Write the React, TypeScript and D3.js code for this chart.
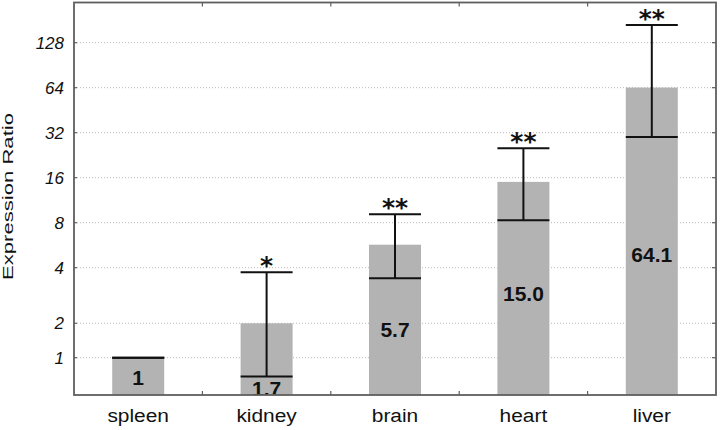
import React from "react";
import * as d3 from "d3";

const categories = ["spleen", "kidney", "brain", "heart", "liver"];
const values = [1, 1.7, 5.7, 15.0, 64.1];
const valueLabels = ["1", "1.7", "5.7", "15.0", "64.1"];
const errLow = [1, 0.75, 3.4, 8.3, 30];
const errHigh = [1, 3.73, 9.1, 25.2, 168];
const stars = ["", "*", "**", "**", "**"];
// where each value label sits, in data units (log axis)
const labelAt = [0.657, 0.556, 1.376, 2.41, 4.37];
const tickValues = [1, 1.7, 4, 8, 16, 32, 64, 128];
const tickLabels = ["1", "2", "4", "8", "16", "32", "64", "128"];

const W = 720;
const H = 430;
const left = 74;
const right = 716;
const top = 2.5;
const bottom = 395;

export default function App() {
  const y = d3.scaleLog().base(2).domain([0.563, 237.7]).range([bottom, top]);
  const x = d3
    .scaleBand<string>()
    .domain(categories)
    .range([left, right])
    .paddingInner(0.595)
    .paddingOuter(0.2975);
  const step = x.step();
  const bw = x.bandwidth();
  const font = "'Liberation Sans', Arial, sans-serif";
  const frame = "#5f5f5f";

  return (
    <svg
      width={W}
      height={H}
      style={{ position: "absolute", left: 0, top: 0, background: "#fff" }}
    >
      <defs>
        <clipPath id="plot">
          <rect x={left} y={top} width={right - left} height={bottom - top} />
        </clipPath>
      </defs>
      <rect x={0} y={0} width={W} height={H} fill="#fff" />
      {tickValues.map((t, i) => (
        <line
          key={"g" + i}
          x1={left}
          x2={right}
          y1={y(t)}
          y2={y(t)}
          stroke="#b8b8b8"
          strokeWidth={1}
          strokeDasharray="1,2"
        />
      ))}
      <g clipPath="url(#plot)">
        {categories.map((c, i) => {
          const x0 = x(c) as number;
          const cx = x0 + bw / 2;
          return (
            <g key={c}>
              <rect
                x={x0}
                y={y(values[i])}
                width={bw}
                height={bottom - y(values[i])}
                fill="#b3b3b3"
              />
              <text
                x={cx}
                y={y(labelAt[i])}
                textAnchor="middle"
                fontFamily={font}
                fontWeight="bold"
                fontSize={21}
                fill="#111"
              >
                {valueLabels[i]}
              </text>
            </g>
          );
        })}
      </g>
      {categories.map((c, i) => {
        const x0 = x(c) as number;
        const cx = x0 + bw / 2;
        return (
          <g key={"e" + c} stroke="#111" strokeWidth={2}>
            <line x1={cx} x2={cx} y1={y(errLow[i])} y2={y(errHigh[i])} />
            <line x1={x0} x2={x0 + bw} y1={y(errLow[i])} y2={y(errLow[i])} />
            <line x1={x0} x2={x0 + bw} y1={y(errHigh[i])} y2={y(errHigh[i])} />
          </g>
        );
      })}
      {categories.map((c, i) => (
        <text
          key={"s" + c}
          x={(x(c) as number) + bw / 2}
          y={y(errHigh[i]) + 2}
          textAnchor="middle"
          fontFamily="'DejaVu Sans', sans-serif"
          fontWeight="bold"
          fontSize={25}
          fill="#111"
        >
          {stars[i]}
        </text>
      ))}
      <rect
        x={left}
        y={top}
        width={right - left}
        height={bottom - top}
        fill="none"
        stroke={frame}
        strokeWidth={1.8}
      />
      {tickValues.map((t, i) => (
        <g key={"yt" + i} stroke={frame} strokeWidth={1.2}>
          <line x1={left} x2={left + 3} y1={y(t)} y2={y(t)} />
          <line x1={right} x2={right - 4} y1={y(t)} y2={y(t)} />
        </g>
      ))}
      {categories.slice(0, -1).map((c, i) => {
        const bx = (x(c) as number) + bw / 2 + step / 2;
        return (
          <g key={"xt" + i} stroke={frame} strokeWidth={1.2}>
            <line x1={bx} x2={bx} y1={bottom} y2={bottom - 4} />
            <line x1={bx} x2={bx} y1={top} y2={top + 4} />
          </g>
        );
      })}
      {tickValues.map((t, i) => (
        <text
          key={"yl" + i}
          x={64}
          y={y(t)}
          dy="0.36em"
          textAnchor="end"
          fontFamily={font}
          fontStyle="italic"
          fontSize={17}
          fill="#111"
        >
          {tickLabels[i]}
        </text>
      ))}
      {categories.map((c) => {
        const cx = (x(c) as number) + bw / 2;
        return (
          <text
            key={"cl" + c}
            transform={`translate(${cx},422) scale(1.1,1)`}
            textAnchor="middle"
            fontFamily={font}
            fontSize={19}
            fill="#111"
          >
            {c}
          </text>
        );
      })}
      <text
        transform={`translate(13,196.5) rotate(-90)`}
        textAnchor="middle"
        fontFamily={font}
        fontSize={15.5}
        textLength={167}
        lengthAdjust="spacingAndGlyphs"
        fill="#111"
      >
        Expression Ratio
      </text>
    </svg>
  );
}
